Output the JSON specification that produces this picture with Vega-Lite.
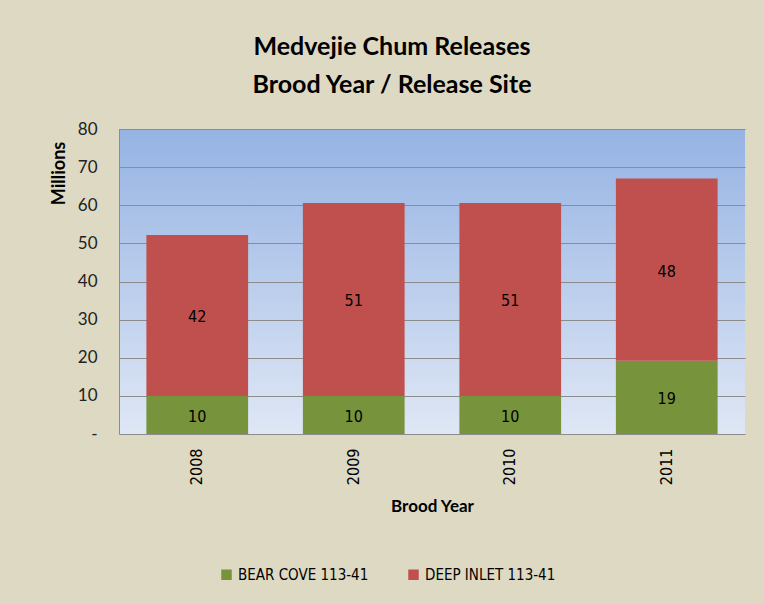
{
  "$schema": "https://vega.github.io/schema/vega-lite/v6.json",
  "width": 626,
  "height": 305,
  "autosize": "none",
  "padding": {"left": 119, "top": 129, "right": 19, "bottom": 170},
  "background": "#ddd9c3",
  "title": {
    "text": ["Medvejie Chum Releases", "Brood Year / Release Site"],
    "font": "Lato",
    "fontSize": 25,
    "fontWeight": "bold",
    "color": "#000000",
    "lineHeight": 38,
    "anchor": "middle",
    "frame": "group",
    "dx": -40,
    "offset": 22
  },
  "data": {
    "values": [
      {"year": "2008", "site": "BEAR COVE 113-41", "value": 10.0},
      {"year": "2008", "site": "DEEP INLET 113-41", "value": 42.2},
      {"year": "2009", "site": "BEAR COVE 113-41", "value": 10.0},
      {"year": "2009", "site": "DEEP INLET 113-41", "value": 50.6},
      {"year": "2010", "site": "BEAR COVE 113-41", "value": 10.0},
      {"year": "2010", "site": "DEEP INLET 113-41", "value": 50.6},
      {"year": "2011", "site": "BEAR COVE 113-41", "value": 19.2},
      {"year": "2011", "site": "DEEP INLET 113-41", "value": 47.8}
    ]
  },
  "transform": [
    {"stack": "value", "groupby": ["year"], "sort": [{"field": "site", "order": "ascending"}], "as": ["v0", "v1"]},
    {"calculate": "(datum.v0 + datum.v1) / 2", "as": "mid"}
  ],
  "encoding": {
    "x": {
      "field": "year",
      "type": "nominal",
      "scale": {"paddingInner": 0.35, "paddingOuter": 0.175},
      "axis": {
        "title": "Brood Year",
        "titleFont": "Lato",
        "titleFontSize": 17,
        "titleFontWeight": "bold",
        "titleColor": "#000000",
        "titlePadding": 14,
        "labelAngle": -90,
        "labelAlign": "right",
        "labelBaseline": "middle",
        "labelFont": "DejaVu Sans Condensed",
        "labelFontSize": 16,
        "labelColor": "#000000",
        "labelPadding": 14,
        "domain": false,
        "ticks": false
      }
    }
  },
  "layer": [
    {
      "mark": {"type": "bar"},
      "encoding": {
        "y": {
          "field": "v1",
          "type": "quantitative",
          "scale": {"domain": [0, 80]},
          "axis": {
            "title": "Millions",
            "values": [0, 10, 20, 30, 40, 50, 60, 70, 80],
            "labelExpr": "datum.value === 0 ? '-' : datum.label"
          }
        },
        "y2": {"field": "v0"},
        "color": {
          "field": "site",
          "type": "nominal",
          "scale": {"domain": ["BEAR COVE 113-41", "DEEP INLET 113-41"], "range": ["#77933c", "#c0504d"]},
          "legend": {
            "title": null,
            "orient": "none",
            "legendX": 100,
            "legendY": 438,
            "direction": "horizontal",
            "symbolType": "square",
            "symbolSize": 110,
            "symbolStrokeWidth": 0,
            "labelFont": "DejaVu Sans Condensed",
            "labelFontSize": 15,
            "labelColor": "#000000",
            "labelLimit": 300,
            "columnPadding": 37
          }
        }
      }
    },
    {
      "mark": {"type": "text", "font": "DejaVu Sans Condensed", "fontSize": 16, "color": "#000000", "baseline": "middle", "align": "center", "dy": 2},
      "encoding": {
        "y": {
          "field": "mid",
          "type": "quantitative",
          "axis": {
            "title": "Millions",
            "values": [0, 10, 20, 30, 40, 50, 60, 70, 80],
            "labelExpr": "datum.value === 0 ? '-' : datum.label"
          }
        },
        "text": {"field": "value", "type": "quantitative", "format": ".0f"}
      }
    }
  ],
  "config": {
    "axisY": {
      "titleFont": "Lato",
      "titleFontSize": 18,
      "titleFontWeight": "bold",
      "titleColor": "#000000",
      "titleAngle": -90,
      "titleX": -60,
      "titleY": 44,
      "titleAlign": "center",
      "titleBaseline": "middle",
      "labelOverlap": false,
      "labelFont": "Lato",
      "labelFontSize": 17,
      "labelColor": "#222222",
      "labelPadding": 22,
      "ticks": false,
      "domain": true,
      "domainColor": "#8c8c8c",
      "grid": true,
      "gridColor": "#8c8c8c",
      "gridWidth": 1
    },
    "view": {
      "stroke": null,
      "fill": {
        "gradient": "linear",
        "x1": 0, "y1": 0, "x2": 0, "y2": 1,
        "stops": [
          {"offset": 0, "color": "#95b3e3"},
          {"offset": 1, "color": "#dfe7f5"}
        ]
      }
    }
  }
}
